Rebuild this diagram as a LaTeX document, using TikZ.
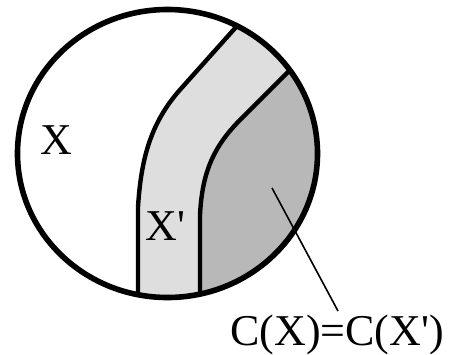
\documentclass[tikz,border=0pt]{standalone}
\usepackage{fontspec}
\setmainfont{Liberation Serif}
\definecolor{bandgray}{RGB}{222,222,222}
\definecolor{darkregion}{RGB}{184,184,184}
\begin{document}
\begin{tikzpicture}[x=0.75pt,y=-0.75pt,
  lbl/.style={font=\fontsize{33}{36}\selectfont, inner sep=0pt, anchor=base west},
  border/.style={line width=4.2pt},
  divider/.style={line width=3.3pt},
  leader/.style={line width=1.2pt}]
\useasboundingbox (0,0) rectangle (453,354);
\begin{scope}
  \clip (167.5,153.5) ellipse [x radius=112.5pt, y radius=108pt];
  % light band
  \fill[bandgray] (138,310) -- (138,207) .. controls (141,160) and (150,125) .. (178,92) -- (262,-2)
     -- (310,50) -- (240,120) .. controls (212,148) and (202,175) .. (200,215) -- (200,310) -- cycle;
  % dark region
  \fill[darkregion] (200,310) -- (200,215) .. controls (202,175) and (212,148) .. (240,120) -- (310,50)
     -- (340,50) -- (340,310) -- cycle;
  % dividers
  \draw[divider] (138,310) -- (138,207) .. controls (141,160) and (150,125) .. (178,92) -- (262,-2);
  \draw[divider] (200,310) -- (200,215) .. controls (202,175) and (212,148) .. (240,120) -- (310,50);
\end{scope}
\draw[border] (167.5,153.5) ellipse [x radius=112.5pt, y radius=108pt];
\node[lbl] (x) at (40,154) {X};
\node[lbl] (xp) at (145,240) {X\textquotesingle};
\node[lbl] (c) at (230,345) {C(X)=C(X\textquotesingle)};
\coordinate (tip) at (272,188);
\coordinate (tail) at (338,311);
\draw[leader] (tip) -- (tail);
\end{tikzpicture}
\end{document}
